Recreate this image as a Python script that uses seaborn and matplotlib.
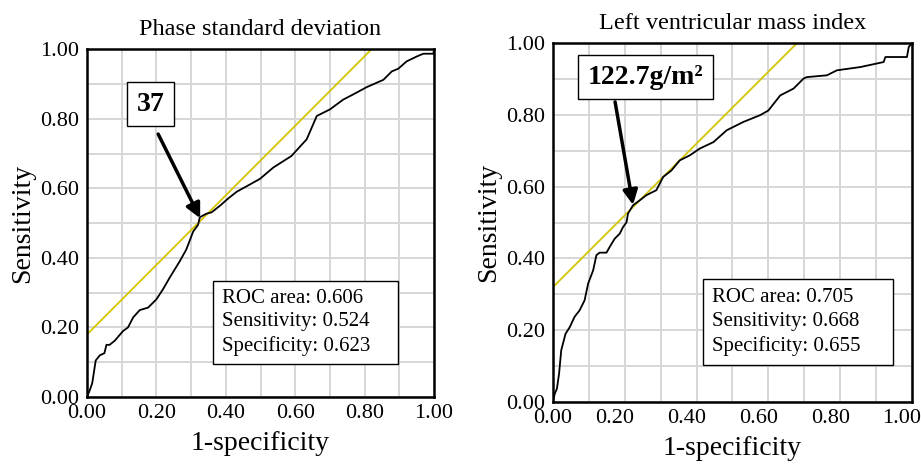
import matplotlib
matplotlib.use("Agg")
import matplotlib.pyplot as plt
import matplotlib.transforms as mtransforms
import seaborn as sns
from matplotlib.ticker import MultipleLocator

# ROC curve: phase standard deviation
psd_fpr = [0.0, 0.008, 0.015, 0.025, 0.037, 0.05, 0.056, 0.065, 0.08, 0.104, 0.118,
           0.133, 0.152, 0.176, 0.2, 0.219, 0.238, 0.267, 0.286, 0.306, 0.32, 0.325,
           0.344, 0.359, 0.383, 0.407, 0.431, 0.46, 0.498, 0.537, 0.589, 0.633, 0.662,
           0.7, 0.738, 0.767, 0.806, 0.854, 0.878, 0.897, 0.921, 0.95, 0.969, 0.998, 1.0]
psd_tpr = [0.0, 0.02, 0.04, 0.105, 0.12, 0.126, 0.15, 0.15, 0.162, 0.19, 0.2,
           0.229, 0.25, 0.257, 0.281, 0.31, 0.343, 0.39, 0.424, 0.476, 0.495, 0.517,
           0.527, 0.531, 0.55, 0.571, 0.59, 0.606, 0.627, 0.66, 0.693, 0.741, 0.808,
           0.827, 0.855, 0.87, 0.891, 0.912, 0.936, 0.944, 0.965, 0.979, 0.987, 0.987, 1.0]
psd_tangent_x = [0.0, 0.82]
psd_tangent_y = [0.18, 1.0]

# ROC curve: left ventricular mass index
lvmi_fpr = [0.0, 0.005, 0.011, 0.017, 0.023, 0.035, 0.047, 0.06, 0.074, 0.088, 0.098,
            0.112, 0.121, 0.13, 0.149, 0.158, 0.172, 0.186, 0.195, 0.205, 0.209, 0.223,
            0.242, 0.26, 0.288, 0.307, 0.33, 0.353, 0.381, 0.409, 0.447, 0.484, 0.53,
            0.577, 0.6, 0.633, 0.67, 0.698, 0.707, 0.763, 0.791, 0.856, 0.921, 0.926,
            0.986, 0.991, 1.0]
lvmi_tpr = [0.0, 0.023, 0.037, 0.079, 0.144, 0.19, 0.209, 0.237, 0.255, 0.283, 0.33,
            0.367, 0.409, 0.416, 0.416, 0.432, 0.455, 0.469, 0.487, 0.501, 0.525, 0.548,
            0.562, 0.576, 0.59, 0.627, 0.645, 0.673, 0.687, 0.706, 0.724, 0.757, 0.78,
            0.799, 0.812, 0.854, 0.873, 0.901, 0.905, 0.91, 0.924, 0.933, 0.947, 0.961,
            0.961, 0.989, 1.0]
lvmi_tangent_x = [0.0, 0.68]
lvmi_tangent_y = [0.32, 1.0]

titles = ["Phase standard deviation", "Left ventricular mass index"]
cutoff_labels = ["37", "122.7g/m\u00b2"]
stats_text = ["ROC area: 0.606\nSensitivity: 0.524\nSpecificity: 0.623",
              "ROC area: 0.705\nSensitivity: 0.668\nSpecificity: 0.655"]
tick_values = [0.0, 0.2, 0.4, 0.6, 0.8, 1.0]
tick_labels = ["0.00", "0.20", "0.40", "0.60", "0.80", "1.00"]

sns.set_theme(style="whitegrid")
plt.rcParams['font.family'] = ['Liberation Serif', 'DejaVu Serif']

fig = plt.figure(figsize=(9.21, 4.65), dpi=100)
fig.patch.set_facecolor("white")

ax_left = fig.add_axes([0.0945, 0.1462, 0.3768, 0.748])
ax_right = fig.add_axes([0.6004, 0.1355, 0.3898, 0.772])

panels = [
    (ax_left, psd_fpr, psd_tpr, psd_tangent_x, psd_tangent_y,
     (0.184, 0.842), (0.205, 0.756), (0.326, 0.514), (0.363, 0.095, 0.533, 0.238), 0),
    (ax_right, lvmi_fpr, lvmi_tpr, lvmi_tangent_x, lvmi_tangent_y,
     (0.259, 0.905), (0.173, 0.836), (0.223, 0.549), (0.418, 0.103, 0.529, 0.240), -10),
]

for i, (ax, fx, fy, tx, ty, lab_xy, tail, head, box, xshift) in enumerate(panels):
    ax.set_facecolor("white")
    sns.lineplot(x=tx, y=ty, ax=ax, color="#d4c400", lw=1.3, sort=False, estimator=None)
    sns.lineplot(x=fx, y=fy, ax=ax, color="black", lw=1.3, sort=False, estimator=None)
    ax.set_xlim(0, 1)
    ax.set_ylim(0, 1)

    ax.xaxis.set_minor_locator(MultipleLocator(0.1))
    ax.yaxis.set_minor_locator(MultipleLocator(0.1))
    ax.set_xticks(tick_values)
    ax.set_yticks(tick_values)
    ax.set_xticklabels(tick_labels, fontsize=16)
    ax.set_yticklabels(tick_labels, fontsize=16)
    ax.grid(which="both", color="#d6d6d6", lw=1.4)
    ax.set_axisbelow(True)
    ax.tick_params(which="both", length=0, colors="black")
    ax.tick_params(axis="x", pad=5)
    ax.tick_params(axis="y", pad=6)
    for sp in ax.spines.values():
        sp.set_color("black")
        sp.set_linewidth(1.8)

    # the right panel's x labels sit a little to the left of their ticks
    if xshift:
        offset = mtransforms.ScaledTranslation(xshift / 100, 0, fig.dpi_scale_trans)
        for lab in ax.get_xticklabels()[1:]:
            lab.set_transform(lab.get_transform() + offset)

    ax.set_xlabel("1-specificity", fontsize=20, color="black", labelpad=6)
    ax.set_ylabel("Sensitivity", fontsize=20, color="black", labelpad=3)
    ax.set_title(titles[i], fontsize=17.5, color="black", pad=10)

    # cutoff arrow and label
    ax.annotate("", xy=head, xytext=tail, xycoords="data",
                arrowprops=dict(arrowstyle="-|>", color="black", lw=2.5,
                                mutation_scale=22, shrinkA=0, shrinkB=0))
    ax.text(lab_xy[0], lab_xy[1], cutoff_labels[i], fontsize=20, fontweight="bold",
            ha="center", va="center", color="black",
            bbox=dict(boxstyle="square,pad=0.35", fc="white", ec="black", lw=1))

    # statistics box
    ax.add_patch(plt.Rectangle((box[0], box[1]), box[2], box[3], transform=ax.transAxes,
                               fc="white", ec="black", lw=1, zorder=3))
    ax.text(box[0] + 0.025, box[1] + box[3] / 2, stats_text[i], transform=ax.transAxes,
            fontsize=15, ha="left", va="center", color="black", linespacing=1.32,
            zorder=4)

fig.savefig("out.png", dpi=100, facecolor="white")
